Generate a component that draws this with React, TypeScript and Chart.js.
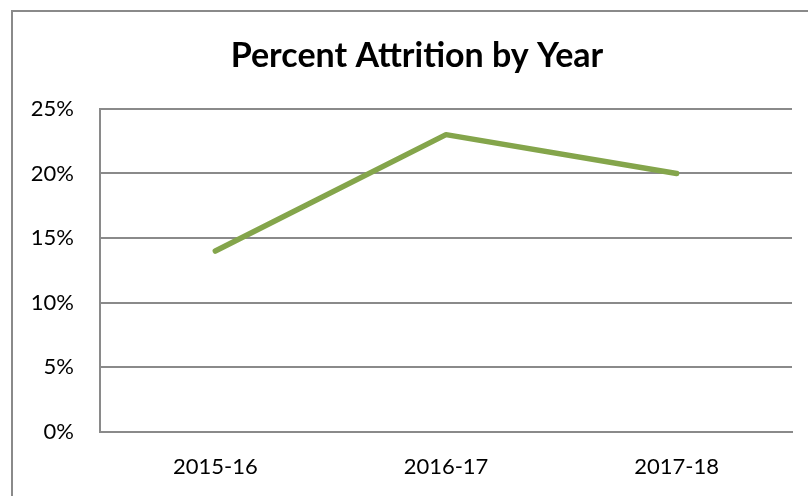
import React, { useEffect, useRef } from "react";
import { Chart, registerables } from "chart.js";

Chart.register(...registerables);

const categories = ["2015-16", "2016-17", "2017-18"];
const attrition = [14, 23, 20];
const yTicks = [0, 5, 10, 15, 20, 25];
const titleText = "Percent Attrition by Year";

const FONT = "Lato, 'Open Sans', sans-serif";

const framePlugin = {
  id: "frame",
  afterLayout(chart: any) {
    const t = chart.titleBlock;
    if (t) {
      // center the title over the outer frame rather than the canvas
      t.left = 42;
      t.right = chart.chartArea.right;
      t.width = t.right - t.left;
    }
  },
  beforeDraw(chart: any) {
    const ctx = chart.ctx;
    ctx.save();
    ctx.fillStyle = "#ffffff";
    ctx.fillRect(0, 0, chart.width, chart.height);
    ctx.strokeStyle = "#8a8a8a";
    ctx.lineWidth = 2;
    ctx.strokeRect(12, 11, chart.width + 20, chart.height + 20);
    ctx.restore();
  },
};

export default function App() {
  const ref = useRef<HTMLCanvasElement | null>(null);
  useEffect(() => {
    if (!ref.current) return;
    const chart = new Chart(ref.current, {
      type: "line",
      data: {
        labels: categories,
        datasets: [
          {
            data: attrition,
            borderColor: "#84A54B",
            borderWidth: 5.5,
            pointRadius: 0,
            tension: 0,
            borderCapStyle: "round",
            borderJoinStyle: "round",
          },
        ],
      },
      options: {
        animation: false,
        responsive: false,
        layout: { padding: { left: 0, right: 16, top: 0, bottom: 0 } },
        plugins: {
          legend: { display: false },
          tooltip: { enabled: false },
          title: {
            display: true,
            text: titleText,
            color: "#000",
            font: { family: FONT, size: 34, weight: "bold", lineHeight: 1.2 },
            padding: { top: 36, bottom: 32 },
          },
        },
        scales: {
          x: {
            offset: true,
            grid: { display: false, drawTicks: false },
            border: { display: true, color: "#8a8a8a", width: 2 },
            ticks: {
              color: "#000",
              font: { family: FONT, size: 22 },
              padding: 22,
              maxRotation: 0,
            },
            afterFit(scale: any) {
              scale.height = 64;
            },
          },
          y: {
            min: 0,
            max: 25,
            afterBuildTicks(scale: any) {
              scale.ticks = yTicks.map((v) => ({ value: v }));
            },
            grid: { color: "#8a8a8a", lineWidth: 2, drawTicks: false },
            border: { display: true, color: "#8a8a8a", width: 2 },
            ticks: {
              color: "#000",
              font: { family: FONT, size: 22 },
              padding: 26,
              callback: (v: any) => v + "%",
            },
            afterFit(scale: any) {
              scale.width = 100;
            },
          },
        },
      },
      plugins: [framePlugin],
    });
    return () => chart.destroy();
  }, []);
  return (
    <div style={{ position: "fixed", left: 0, top: 0, width: 808, height: 496, background: "#fff" }}>
      <canvas ref={ref} width={808} height={496} style={{ display: "block" }} />
    </div>
  );
}
